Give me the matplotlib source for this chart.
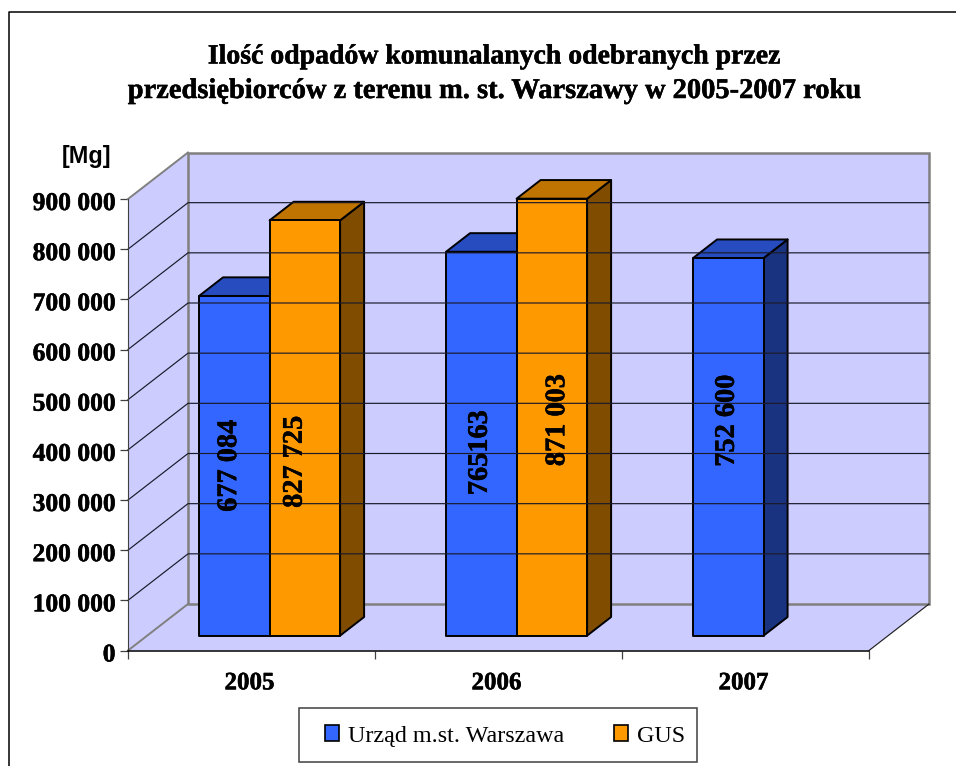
import matplotlib
matplotlib.use('Agg')
import matplotlib.pyplot as plt
import matplotlib.patheffects as pe
from matplotlib.patches import Polygon, Patch, Rectangle
from matplotlib.lines import Line2D
from matplotlib.ticker import FuncFormatter
from matplotlib.transforms import ScaledTranslation

# values in Mg
years = ['2005', '2006', '2007']
urzad = [677084, 765163, 752600]
gus = [827725, 871003]
urzad_labels = ['677 084', '765163', '752 600']
gus_labels = ['827 725', '871 003']
# hand placed value labels: height on the bar and sideways shift
urzad_label_y = [339000, 365000, 429000]
urzad_label_dx = [-0.019, -0.004, -0.004]
gus_label_y = [347000, 430000]
gus_label_dx = [-0.039, 0.024]

W, H = 956, 766
WALL = '#CCCCFF'
GREY = '#808080'
BLUE = ('#3366FF', '#264CBF', '#1A3380')
ORANGE = ('#FF9900', '#BF7300', '#804D00')
SERIF = 'Liberation Serif'
HEAVY = [pe.withStroke(linewidth=0.35, foreground='black')]

YMAX = 900000
# how far the back wall sits from the front plane, in data units
DEPTH_X = 60 / 247
DEPTH_Y = 46.5 / 451.5 * YMAX
BAR_W = 0.2855
BAR_D0 = 0.32
BAR_D1 = 0.72


def proj(x, v, d):
    return x + d * DEPTH_X, v + d * DEPTH_Y


def fx(x):
    return x / W


def fy(y):
    return 1 - y / H


def face(ax, pts, **kw):
    ax.add_patch(Polygon([proj(*p) for p in pts], clip_on=False, **kw))


def bar3d(ax, x, val, colors):
    x2 = x + BAR_W
    # side, top, then front so the front outline stays on top
    face(ax, [(x2, 0, BAR_D0), (x2, 0, BAR_D1), (x2, val, BAR_D1), (x2, val, BAR_D0)],
         fc=colors[2], ec='black', lw=1.4, joinstyle='round')
    face(ax, [(x, val, BAR_D0), (x2, val, BAR_D0), (x2, val, BAR_D1), (x, val, BAR_D1)],
         fc=colors[1], ec='black', lw=1.4, joinstyle='round')
    face(ax, [(x, 0, BAR_D0), (x2, 0, BAR_D0), (x2, val, BAR_D0), (x, val, BAR_D0)],
         fc=colors[0], ec='black', lw=1.4, joinstyle='round')


fig = plt.figure(figsize=(W / 100, H / 100), dpi=100)
ax = fig.add_axes([fx(128), fy(650.5), (869 - 128) / W, (650.5 - 199) / H])
ax.set_xlim(0, 3)
ax.set_ylim(0, YMAX)
ax.patch.set_visible(False)

# walls and floor
face(ax, [(0, 0, 0), (3, 0, 0), (3, 0, 1), (0, 0, 1)], fc=WALL, ec='none', zorder=1)
face(ax, [(0, 0, 0), (0, YMAX, 0), (0, YMAX, 1), (0, 0, 1)], fc=WALL, ec='none', zorder=1)
face(ax, [(0, 0, 1), (3, 0, 1), (3, YMAX, 1), (0, YMAX, 1)], fc=WALL, ec=GREY, lw=1.8, zorder=1)

# gridlines run along the side wall and across the back wall
for v in range(100000, YMAX, 100000):
    xs, ys = zip(proj(0, v, 0), proj(0, v, 1), proj(3, v, 1))
    ax.plot(xs, ys, color='#1a1a2a', lw=0.85, clip_on=False, zorder=2)
xs, ys = zip(proj(0, YMAX, 0), proj(0, YMAX, 1))
ax.plot(xs, ys, color=GREY, lw=1.4, clip_on=False, zorder=2)
xs, ys = zip(proj(0, 0, 0), proj(0, 0, 1))
ax.plot(xs, ys, color=GREY, lw=1.4, clip_on=False, zorder=2)
xs, ys = zip(proj(3, 0, 0), proj(3, 0, 1))
ax.plot(xs, ys, color='#222222', lw=0.85, clip_on=False, zorder=2)

# bars
slot = 0.21
for i, val in enumerate(urzad):
    bar3d(ax, i + slot, val, BLUE)
for i, val in enumerate(gus):
    bar3d(ax, i + slot + BAR_W, val, ORANGE)

# value labels
for i, txt in enumerate(urzad_labels):
    x, y = proj(i + slot + BAR_W / 2 + urzad_label_dx[i], urzad_label_y[i], BAR_D0)
    ax.text(x, y, txt, rotation=90, ha='center', va='center', fontsize=20.4,
            fontweight='bold', family=SERIF, zorder=20, path_effects=HEAVY)
for i, txt in enumerate(gus_labels):
    x, y = proj(i + slot + 1.5 * BAR_W + gus_label_dx[i], gus_label_y[i], BAR_D0)
    ax.text(x, y, txt, rotation=90, ha='center', va='center', fontsize=20.4,
            fontweight='bold', family=SERIF, zorder=20, path_effects=HEAVY)

# axes
ax.spines['top'].set_visible(False)
ax.spines['right'].set_visible(False)
ax.spines['left'].set_color('#404040')
ax.spines['left'].set_zorder(3)
ax.spines['bottom'].set_color('black')
ax.spines['bottom'].set_zorder(3)
ax.spines['bottom'].set_linewidth(1.1)
ax.set_yticks(range(0, YMAX + 1, 100000))
ax.yaxis.set_major_formatter(FuncFormatter(lambda v, p: f'{int(v):,}'.replace(',', ' ')))
ax.tick_params(axis='y', length=6, width=0.9, color='#404040', pad=3, labelsize=18.4)
ax.set_xticks([0, 1, 2, 3])
ax.set_xticklabels([])
ax.set_xticks([0.5, 1.5, 2.5], minor=True)
ax.set_xticklabels(years, minor=True)
ax.tick_params(axis='x', which='major', length=6, width=0.9, color='#404040')
ax.tick_params(axis='x', which='minor', length=0, pad=15, labelsize=18)
for lab in ax.get_xticklabels(minor=True) + ax.get_yticklabels():
    lab.set_family(SERIF)
    lab.set_fontweight('bold')
    lab.set_path_effects(HEAVY)
for lab in ax.get_yticklabels():
    lab.set_transform(lab.get_transform() + ScaledTranslation(0, -2 / 100, fig.dpi_scale_trans))
for lab in ax.get_xticklabels(minor=True):
    lab.set_transform(lab.get_transform() + ScaledTranslation(-2 / 100, 0, fig.dpi_scale_trans))

# title and unit
fig.text(fx(494), fy(63.5), 'Ilość odpadów komunalanych odebranych przez', ha='center', va='baseline',
         fontsize=20, fontweight='bold', family=SERIF, path_effects=HEAVY)
fig.text(fx(495), fy(98), 'przedsiębiorców z terenu m. st. Warszawy w 2005-2007 roku', ha='center',
         va='baseline', fontsize=20.5, fontweight='bold', family=SERIF, path_effects=HEAVY)
fig.text(fx(86.5), fy(163), '[Mg]', ha='center', va='baseline', fontsize=16.8,
         fontweight='bold', family='Liberation Sans')

# legend, with its box drawn apart for the wider side margins
fig.add_artist(Rectangle((fx(299), fy(762)), 398 / W, 54 / H, transform=fig.transFigure,
                         fc='white', ec='#404040', lw=1.1))
handles = [Patch(fc=BLUE[0], ec='black', lw=1.2), Patch(fc=ORANGE[0], ec='black', lw=1.2)]
leg = fig.legend(handles, ['Urząd m.st. Warszawa', 'GUS'], ncol=2, loc='center',
                 bbox_to_anchor=(fx(505), fy(736)), frameon=False,
                 prop={'family': SERIF, 'size': 17.4},
                 handlelength=0.58, handleheight=0.58, handletextpad=0.36,
                 columnspacing=2.05, borderpad=0, borderaxespad=0)

# chart frame, open towards the page edges
fig.add_artist(Line2D([fx(9), fx(9), 1], [0, fy(11.5), fy(11.5)], color='black', lw=1.1))

fig.savefig('out.png', dpi=100)
